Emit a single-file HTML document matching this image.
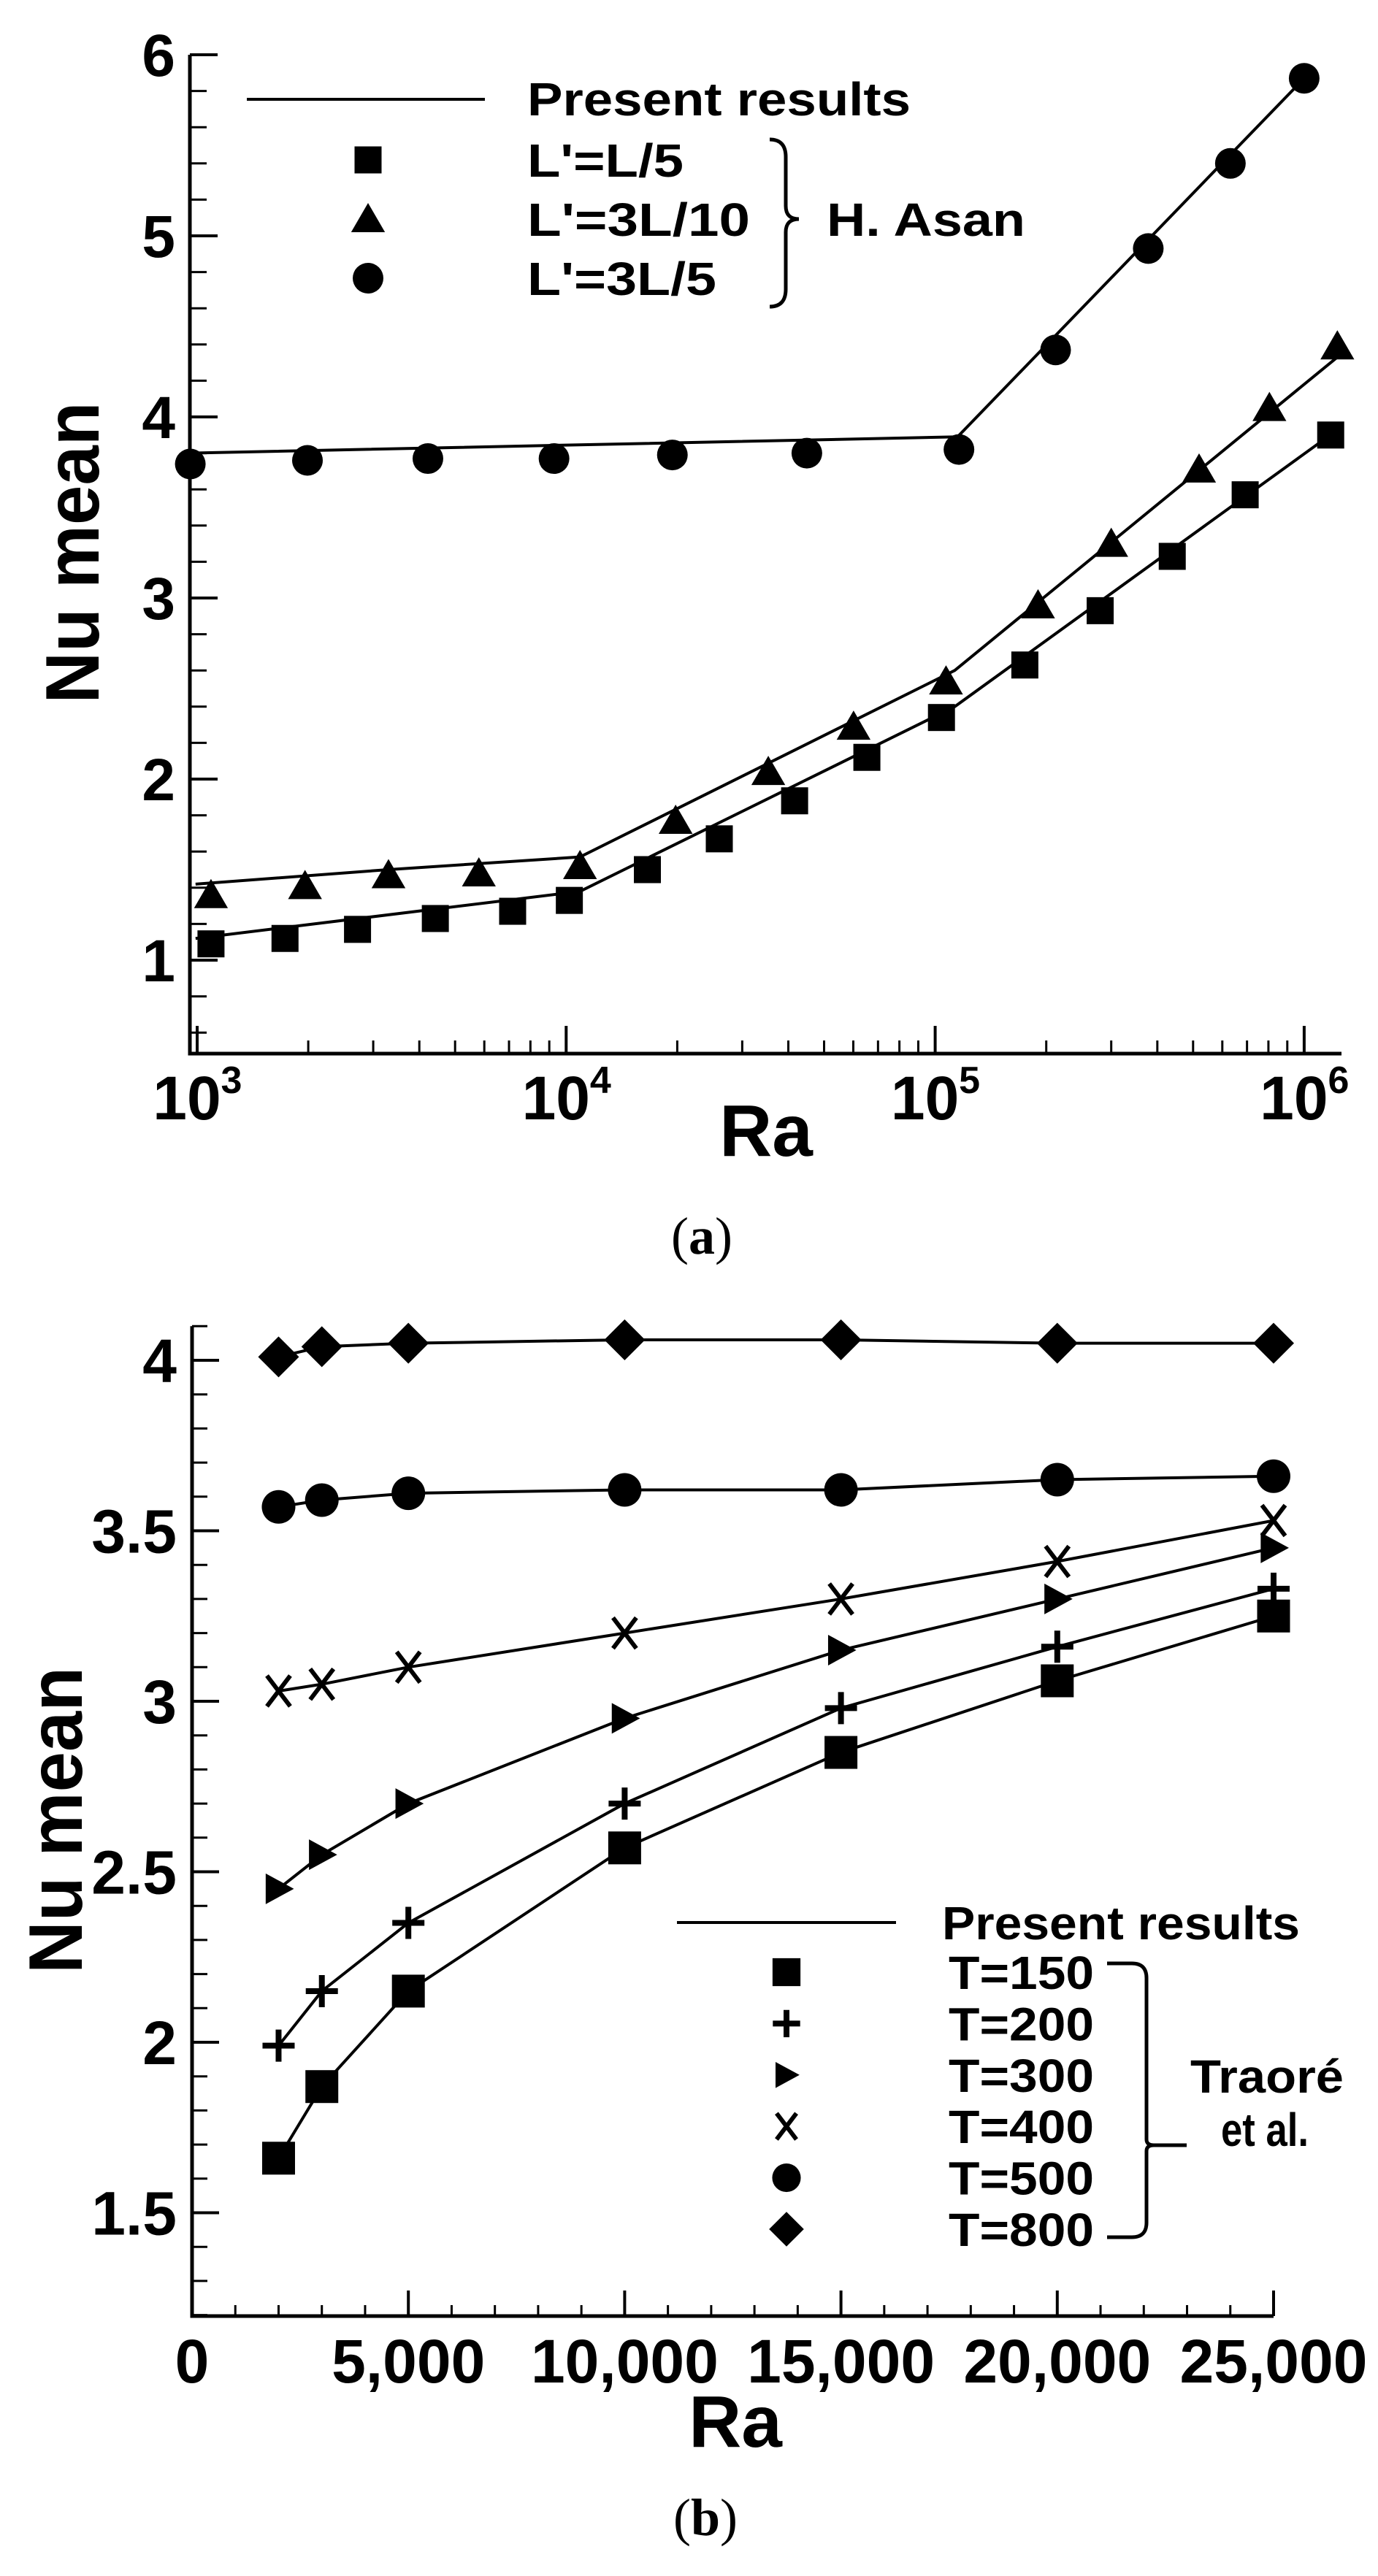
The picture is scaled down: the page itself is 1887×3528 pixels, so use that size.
<!DOCTYPE html>
<html><head><meta charset="utf-8"><title>Nu mean vs Ra</title>
<style>
html,body{margin:0;padding:0;background:#fff;}
svg{display:block;font-family:"Liberation Sans",Arial,sans-serif;}
</style></head>
<body>
<svg id="fig" width="1887" height="3528" viewBox="0 0 1887 3528" xmlns="http://www.w3.org/2000/svg">
<rect width="1887" height="3528" fill="#fff"/>
<g id="chartA"></g>
<g id="chartB"></g>
</svg>
<script>
// ---------- Chart (a) data ----------
const aSqRa=[1090,1730,2720,4420,7160,10200,16600,26000,41600,65300,104000,175000,280000,439000,692000,1180000];
const aSqNu=[1.09,1.12,1.17,1.23,1.27,1.33,1.50,1.67,1.88,2.12,2.34,2.63,2.93,3.23,3.57,3.90];
const aTriRa=[1090,1960,3300,5800,10900,19800,35300,60100,107000,190000,300000,519000,805000,1230000];
const aTriNu=[1.36,1.41,1.47,1.48,1.52,1.77,2.04,2.29,2.54,2.96,3.30,3.71,4.05,4.39];
const aCirRa=[958,1990,4220,9270,19400,44900,116000,212000,378000,631000,1000000];
const aCirNu=[3.74,3.76,3.77,3.77,3.79,3.80,3.82,4.37,4.93,5.40,5.87];
const aLineSqRa=[990,10900,113000,1233000];
const aLineSqNu=[1.12,1.38,2.40,3.93];
const aLineTriRa=[990,3300,10900,113000,1230000];
const aLineTriNu=[1.42,1.50,1.57,2.60,4.33];
const aLineCirRa=[945,115000,1000000];
const aLineCirNu=[3.80,3.89,5.87];
const aYTicks=[1,2,3,4,5,6];
const aXExp=[3,4,5,6];
// ---------- Chart (b) data ----------
const bRa=[2000,3000,5000,10000,15000,20000,25000];
const bT150=[1.66,1.87,2.15,2.57,2.85,3.06,3.25];
const bT200=[1.99,2.15,2.35,2.70,2.98,3.16,3.33];
const bT300=[2.45,2.55,2.70,2.95,3.15,3.30,3.45];
const bT400=[3.03,3.05,3.10,3.20,3.30,3.41,3.53];
const bT500=[3.57,3.59,3.61,3.62,3.62,3.65,3.66];
const bT800=[4.01,4.04,4.05,4.06,4.06,4.05,4.05];
const bYTicks=[1.5,2,2.5,3,3.5,4];
const bYLabels=["1.5","2","2.5","3","3.5","4"];
const bXTicks=[0,5000,10000,15000,20000,25000];
const bXLabels=["0","5,000","10,000","15,000","20,000","25,000"];
const bLegend=["T=150","T=200","T=300","T=400","T=500","T=800"];
const aLegend=["L'=L/5","L'=3L/10","L'=3L/5"];

const NS="http://www.w3.org/2000/svg";
function mk(parent,tag,attrs){const e=document.createElementNS(NS,tag);for(const k in attrs)e.setAttribute(k,attrs[k]);parent.appendChild(e);return e;}

function xa(v){return 270+505.3*(Math.log10(v)-3);}
function ya(v){return 75+(6-v)*248;}
function xb(v){return 263+v*(1481/25000);}
function yb(v){return 1863+(4-v)*467;}

function marker(g,type,x,y,s){
  let e;
  if(type==='square'){e=mk(g,'rect',{x:x-s/2,y:y-s/2,width:s,height:s,fill:'#000'});}
  else if(type==='tri'){e=mk(g,'polygon',{points:`${x},${y-s*0.55} ${x-s*0.58},${y+s*0.45} ${x+s*0.58},${y+s*0.45}`,fill:'#000'});}
  else if(type==='circle'){e=mk(g,'circle',{cx:x,cy:y,r:s/2,fill:'#000'});}
  else if(type==='diamond'){e=mk(g,'polygon',{points:`${x},${y-s/2} ${x+s/2},${y} ${x},${y+s/2} ${x-s/2},${y}`,fill:'#000'});}
  else if(type==='tright'){e=mk(g,'polygon',{points:`${x-s*0.42},${y-s/2} ${x+s*0.5},${y} ${x-s*0.42},${y+s/2}`,fill:'#000'});}
  else if(type==='plus'){e=mk(g,'path',{d:`M${x-s/2},${y}H${x+s/2}M${x},${y-s/2}V${y+s/2}`,stroke:'#000','stroke-width':8,fill:'none'});}
  else if(type==='x'){e=mk(g,'path',{d:`M${x-s*0.38},${y-s/2}L${x+s*0.38},${y+s/2}M${x+s*0.38},${y-s/2}L${x-s*0.38},${y+s/2}`,stroke:'#000','stroke-width':6,fill:'none'});}
  return e;
}
function text(g,x,y,str,size,opts){
  const t=mk(g,'text',Object.assign({x:x,y:y,'font-size':size,'font-weight':'bold',fill:'#000'},opts||{}));
  t.textContent=str;return t;
}

// ===================== Chart A =====================
const A=document.getElementById('chartA');
const aAxes=mk(A,'g',{});


let ax=mk(aAxes,'path',{d:`M260,${ya(6)}V1443H1837`,stroke:'#000','stroke-width':5,fill:'none'});


for(let i=0;i<=27;i++){
  const v=0.6+i*0.2; if(v>6.001)break;
  const major=Math.abs(v-Math.round(v))<1e-6;
  mk(aAxes,'line',{x1:260,x2:major?298:283,y1:ya(v),y2:ya(v),stroke:'#000','stroke-width':major?4:3});
}
aYTicks.forEach(v=>{
  const t=text(aAxes,240,ya(v)+29,String(v),82,{'text-anchor':'end'});
  
  
});
for(let d=3;d<=6;d++){
  for(let m=1;m<=9;m++){
    const v=m*Math.pow(10,d); const x=xa(v);
    if(x<262||x>1835)continue;
    mk(aAxes,'line',{x1:x,x2:x,y1:1443,y2:m===1?1405:1425,stroke:'#000','stroke-width':m===1?4:3});
  }
}
aXExp.forEach(e=>{
  const x=xa(Math.pow(10,e));
  const t=mk(aAxes,'text',{x:x-14,y:1533,'font-size':84,'font-weight':'bold','text-anchor':'middle'});
  t.textContent='10';
  
  
  const s=mk(aAxes,'text',{x:x+47,y:1497,'font-size':52,'font-weight':'bold','text-anchor':'middle'});
  s.textContent=String(e);
});
let t;
t=text(A,1049,1583,'Ra',100,{'text-anchor':'middle'});


t=text(A,0,0,'Nu mean',104,{'text-anchor':'middle',transform:'translate(135,757) rotate(-90)',textLength:413,lengthAdjust:'spacingAndGlyphs'});


t=mk(A,'text',{x:961,y:1717,'font-size':72,'font-family':'"Liberation Serif",serif','text-anchor':'middle'});
t.innerHTML='(<tspan font-weight="bold">a</tspan>)';



function drawLine(parent,xs,ys,fx,fy,name){
  const p=mk(parent,'polyline',{points:xs.map((v,i)=>fx(v)+','+fy(ys[i])).join(' '),stroke:'#000','stroke-width':4,fill:'none'});
  
  
}
function drawPts(parent,xs,ys,fx,fy,type,s,name){
  const g=mk(parent,'g',{});
  
  
  xs.forEach((v,i)=>{const m=marker(g,type,fx(v),fy(ys[i]),s);
    
    });
}
drawLine(A,aLineSqRa,aLineSqNu,xa,ya,'line-l5');
drawLine(A,aLineTriRa,aLineTriNu,xa,ya,'line-3l10');
drawLine(A,aLineCirRa,aLineCirNu,xa,ya,'line-3l5');
drawPts(A,aSqRa,aSqNu,xa,ya,'square',37,'series-l5');
drawPts(A,aTriRa,aTriNu,xa,ya,'tri',40,'series-3l10');
drawPts(A,aCirRa,aCirNu,xa,ya,'circle',42,'series-3l5');

const la=mk(A,'g',{});


mk(la,'line',{x1:338,x2:664,y1:136,y2:136,stroke:'#000','stroke-width':4});
t=text(la,722,158,'Present results',64,{textLength:525,lengthAdjust:'spacingAndGlyphs'});


const aTypes=['square','tri','circle'];const aSizes=[37,40,42];const aW=[214,305,259];
aLegend.forEach((s,i)=>{
  const y=219+i*81;
  marker(la,aTypes[i],504,y,aSizes[i]);
  const tt=text(la,722,y+23,s,64,{textLength:aW[i],lengthAdjust:'spacingAndGlyphs'});
  
  
});
mk(la,'path',{d:'M1054,191 Q1076,191 1076,215 V282 Q1076,300 1094,300 Q1076,300 1076,318 V396 Q1076,420 1054,420',stroke:'#000','stroke-width':5,fill:'none'});
t=text(la,1132,323,'H. Asan',64,{textLength:272,lengthAdjust:'spacingAndGlyphs'});



// ===================== Chart B =====================
const B=document.getElementById('chartB');
const bAxes=mk(B,'g',{});


ax=mk(bAxes,'path',{d:`M263,${yb(4.1)}V3172H1744`,stroke:'#000','stroke-width':5,fill:'none'});


for(let i=0;i<=29;i++){
  const v=1.2+i*0.1; if(v>4.101)break;
  const major=Math.abs(v*2-Math.round(v*2))<1e-6;
  mk(bAxes,'line',{x1:263,x2:major?300:284,y1:yb(v),y2:yb(v),stroke:'#000','stroke-width':major?4:3});
}
bYTicks.forEach((v,i)=>{
  const tt=text(bAxes,242,yb(v)+30,bYLabels[i],84,{'text-anchor':'end'});
  
  
});
for(let v=1000;v<=25000;v+=1000){
  const major=v%5000===0;
  mk(bAxes,'line',{x1:xb(v),x2:xb(v),y1:3172,y2:major?3137:3157,stroke:'#000','stroke-width':major?4:3});
}
bXTicks.forEach((v,i)=>{
  const tt=text(bAxes,xb(v),3263,bXLabels[i],84,{'text-anchor':'middle'});
  
  
});
t=text(B,1007,3351,'Ra',100,{'text-anchor':'middle'});


t=text(B,0,0,'Nu mean',104,{'text-anchor':'middle',transform:'translate(112,2493) rotate(-90)',textLength:420,lengthAdjust:'spacingAndGlyphs'});


t=mk(B,'text',{x:966,y:3472,'font-size':72,'font-family':'"Liberation Serif",serif','text-anchor':'middle'});
t.innerHTML='(<tspan font-weight="bold">b</tspan>)';



const bSeries=[bT150,bT200,bT300,bT400,bT500,bT800];
const bTypes=['square','plus','tright','x','circle','diamond'];
const bSizes=[45,44,42,42,46,56];
const bNames=['t150','t200','t300','t400','t500','t800'];
bSeries.forEach((s,i)=>drawLine(B,bRa,s,xb,yb,'line-'+bNames[i]));
bSeries.forEach((s,i)=>drawPts(B,bRa,s,xb,yb,bTypes[i],bSizes[i],'series-'+bNames[i]));

const lb=mk(B,'g',{});


mk(lb,'line',{x1:927,x2:1227,y1:2633,y2:2633,stroke:'#000','stroke-width':4});
t=text(lb,1290,2656,'Present results',64,{textLength:490,lengthAdjust:'spacingAndGlyphs'});


bLegend.forEach((s,i)=>{
  const y=2701+i*70.4;
  marker(lb,bTypes[i],1077,y,bSizes[i]*0.85);
  const tt=text(lb,1299,y+23,s,64,{textLength:199,lengthAdjust:'spacingAndGlyphs'});
  
  
});
mk(lb,'path',{d:'M1516,2689 H1550 Q1570,2689 1570,2709 V2930 Q1570,2938 1580,2938 H1625 M1580,2938 Q1570,2938 1570,2946 V3044 Q1570,3064 1550,3064 H1516',stroke:'#000','stroke-width':5,fill:'none'});
t=text(lb,1630,2866,'Traoré',64,{textLength:210,lengthAdjust:'spacingAndGlyphs'});


t=text(lb,1672,2939,'et al.',64,{textLength:120,lengthAdjust:'spacingAndGlyphs'});


</script>
</body></html>
